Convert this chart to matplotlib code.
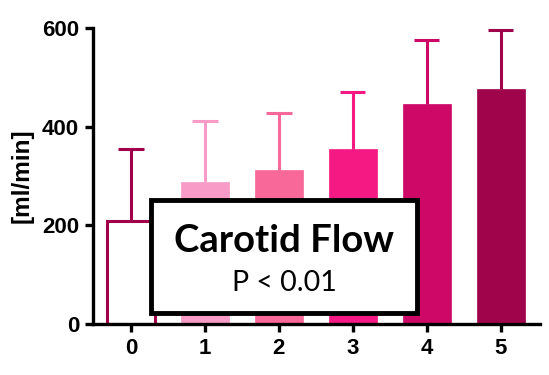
import matplotlib.pyplot as plt
from matplotlib.patches import Rectangle
import matplotlib

matplotlib.rcParams['font.family'] = 'Liberation Sans'
matplotlib.rcParams['font.weight'] = 'bold'

groups = ["0", "1", "2", "3", "4", "5"]
means = [209, 288, 312, 355, 445, 477]
sd = [145, 124, 115, 116, 131, 118]
face = ["white", "#f89bc7", "#f86898", "#f51a83", "#cd0866", "#a0054b"]
edge = ["#a3004c", "#f89bc7", "#f86898", "#f51a83", "#cd0866", "#a0054b"]

fig = plt.figure(figsize=(5.49, 3.75), dpi=100)
ax = fig.add_axes([93 / 549, 1 - 324 / 375, (540 - 93) / 549, (324 - 28) / 375])

cap = 0.17
for i in range(len(groups)):
    lw = 2.2 if i == 0 else 0.5
    ax.bar(i, means[i], width=0.65, color=face[i], edgecolor=edge[i],
           linewidth=lw, zorder=2)
    # upper error bar only
    top = means[i] + sd[i]
    ax.vlines(i, means[i], top, color=edge[i], linewidth=2.2, zorder=1)
    ax.hlines(top, i - cap, i + cap, color=edge[i], linewidth=2.2, zorder=1)

ax.set_xlim(-0.514, 5.53)
ax.set_ylim(0, 600)
ax.set_yticks([0, 200, 400, 600])
ax.set_xticks(range(len(groups)))
ax.set_xticklabels(groups)
ax.spines['top'].set_visible(False)
ax.spines['right'].set_visible(False)
ax.spines['left'].set_linewidth(2.4)
ax.spines['bottom'].set_linewidth(2.4)
ax.spines['left'].set_zorder(5)
ax.spines['bottom'].set_zorder(5)
ax.tick_params(axis="both", width=2.4, length=6, labelsize=16, pad=4)
ax.set_ylabel("[ml/min]", fontsize=17.5, fontweight="bold", labelpad=6)

# annotation box over the first bars
bx0, bx1, by0, by1 = 151 / 549, 417 / 549, 1 - 313 / 375, 1 - 200 / 375
fig.patches.append(Rectangle((bx0, by0), bx1 - bx0, by1 - by0, transform=fig.transFigure,
                             facecolor="white", edgecolor="black", linewidth=3.5, zorder=10))
fig.text((bx0 + bx1) / 2, 1 - 241 / 375, "Carotid Flow", ha="center", va="center",
         fontsize=27.5, fontweight="bold", family="Lato", zorder=11)
fig.text((bx0 + bx1) / 2, 1 - 283 / 375, "P < 0.01", ha="center", va="center",
         fontsize=20.5, fontweight="normal", family="Lato", zorder=11)

plt.savefig("out.png", dpi=100)
